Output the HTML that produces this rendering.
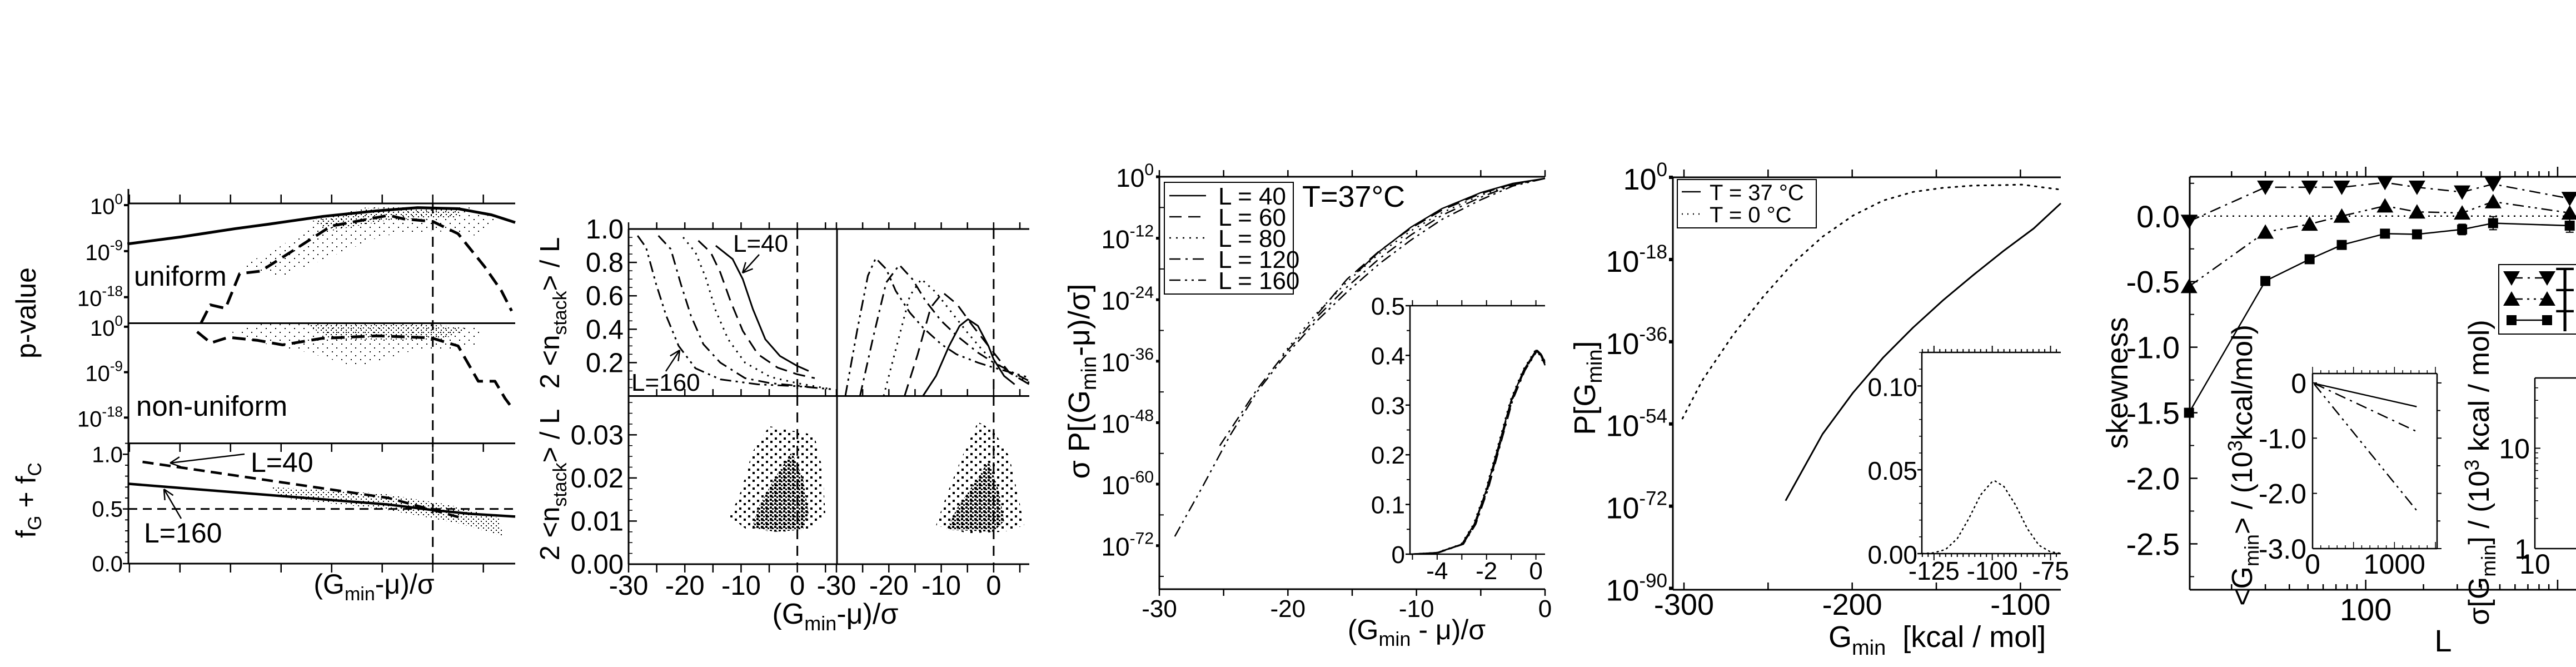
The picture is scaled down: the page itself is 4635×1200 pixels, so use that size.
<!DOCTYPE html>
<html><head><meta charset="utf-8">
<style>
html,body{margin:0;padding:0;background:#fff;}
svg{display:block;}
text{fill:#000;}
</style></head>
<body>
<svg id="fig" xmlns="http://www.w3.org/2000/svg" width="4635" height="1200" viewBox="0 0 4635 1200" font-family="'Liberation Sans', sans-serif">
<defs>
<pattern id="dotsA" width="17" height="14" patternUnits="userSpaceOnUse"><rect x="2" y="2" width="2" height="2"/><rect x="10" y="9" width="2" height="2"/></pattern>
<pattern id="dotsA2" width="9" height="8" patternUnits="userSpaceOnUse"><rect x="1" y="1" width="2" height="2"/><rect x="5" y="5" width="2" height="2"/></pattern>
<pattern id="dotsB" width="16" height="14" patternUnits="userSpaceOnUse"><rect x="2" y="3" width="4" height="4"/><rect x="10" y="9" width="4" height="4"/></pattern>
<pattern id="dotsB2" width="8" height="7" patternUnits="userSpaceOnUse"><rect x="1" y="1" width="4" height="4"/><rect x="5" y="4" width="3" height="3"/></pattern>
</defs>

<text transform="translate(64,563) rotate(-90)" font-size="50" text-anchor="middle">p-value</text>
<text transform="translate(64,900) rotate(-90)" font-size="50" text-anchor="middle">f<tspan font-size="34" dy="10">G</tspan><tspan dy="-10"> + f</tspan><tspan font-size="34" dy="10">C</tspan></text>
<text x="241" y="514" font-size="50">uniform</text>
<text x="245" y="748" font-size="51">non-uniform</text>
<text x="451" y="849" font-size="50">L=40</text>
<text x="259" y="976" font-size="50">L=160</text>
<text x="673" y="1068" font-size="50" text-anchor="middle">(G<tspan font-size="34" dy="12">min</tspan><tspan dy="-12">-μ)/σ</tspan></text>

<text transform="translate(1006,563) rotate(-90)" font-size="49" text-anchor="middle">2 &lt;n<tspan font-size="34" dy="13">stack</tspan><tspan dy="-13">&gt; / L</tspan></text>
<text transform="translate(1006,872) rotate(-90)" font-size="49" text-anchor="middle">2 &lt;n<tspan font-size="34" dy="13">stack</tspan><tspan dy="-13">&gt; / L</tspan></text>
<text x="1319" y="453" font-size="44">L=40</text>
<text x="1136" y="703" font-size="44">L=160</text>
<text x="1503" y="1122" font-size="52" text-anchor="middle">(G<tspan font-size="36" dy="12">min</tspan><tspan dy="-12">-μ)/σ</tspan></text>

<text transform="translate(1960,686) rotate(-90)" font-size="54" font-family="'Liberation Sans Narrow','Liberation Sans',sans-serif" text-anchor="middle">σ P[(G<tspan font-size="38" dy="12">min</tspan><tspan dy="-12">-μ)/σ]</tspan></text>
<text x="2549" y="1150" font-size="50" font-family="'Liberation Sans Narrow','Liberation Sans',sans-serif" text-anchor="middle" xml:space="preserve">(G<tspan font-size="36" dy="12">min</tspan><tspan dy="-12"> - μ)/σ</tspan></text>
<text x="2343" y="372" font-size="54" font-family="'Liberation Sans Narrow','Liberation Sans',sans-serif">T=37°C</text>

<text transform="translate(2870,698) rotate(-90)" font-size="54" font-family="'Liberation Sans Narrow','Liberation Sans',sans-serif" text-anchor="middle">P[G<tspan font-size="38" dy="12">min</tspan><tspan dy="-12">]</tspan></text>
<text x="3290" y="1164" font-size="54" xml:space="preserve">G<tspan font-size="38" dy="14">min</tspan><tspan dy="-14">  [kcal / mol]</tspan></text>

<text transform="translate(3828,689) rotate(-90)" font-size="54" text-anchor="middle">skewness</text>
<text x="4396" y="1172" font-size="56" text-anchor="middle">L</text>
<text transform="translate(4052,837) rotate(-90)" font-size="52" text-anchor="middle">&lt;G<tspan font-size="36" dy="12">min</tspan><tspan dy="-12">&gt; / (10</tspan><tspan font-size="36" dy="-18">3</tspan><tspan dy="18">kcal/mol)</tspan></text>
<text transform="translate(4478,850) rotate(-90)" font-size="52" text-anchor="middle">σ[G<tspan font-size="36" dy="12">min</tspan><tspan dy="-12">] / (10</tspan><tspan font-size="36" dy="-18">3</tspan><tspan dy="18"> kcal / mol)</tspan></text>
</svg>

<script>
const aUniSolidX=[-6.04,-4.97,-3.9,-3.23,-2.17,-1.1,-0.3,0.5,1.16,1.63];
const aUniSolidLogP=[-7.6,-6.2,-4.6,-3.7,-2.2,-1.1,-0.5,-0.7,-1.9,-3.4];
const aUniDashX=[-4.58,-4.4,-4.1,-3.82,-3.4,-2.67,-2.01,-0.87,-0.57,0,0.5,1.03,1.36,1.56];
const aUniDashLogP=[-23,-19.5,-20.2,-13.4,-12.9,-8.3,-4.1,-2.0,-2.7,-3.2,-5.6,-12.1,-16.8,-20.7];
const aNonDashX=[-4.66,-4.39,-4.04,-3.46,-2.97,-2.19,-1.1,-0.03,0.5,0.9,1.23,1.43,1.6];
const aNonDashLogP=[-1.0,-3.2,-2.1,-2.7,-3.6,-2.3,-1.8,-2.2,-3.8,-10.8,-10.8,-14.2,-16.5];
const aF40X=[-5.74,-0.87,0,0.63];
const aF40=[0.93,0.60,0.49,0.41];
const aF160X=[-6.02,-0.87,0,0.76,1.63];
const aF160=[0.73,0.54,0.49,0.455,0.43];
const aLogTicks=[0,-9,-18];
const aFTicks=[0.0,0.5,1.0];
const aUniCloudX=[-3.8,-3,-2.2,-1.3,0,0.8,1.25,0.9,0,-1,-2,-3];
const aUniCloudY=[-12,-8,-2.5,-0.4,-0.2,-0.5,-3,-6,-5,-6,-10,-14];
const aUniCoreX=[-2.4,-1.3,0,0.7,0.4,-0.8,-2];
const aUniCoreY=[-3,-0.6,-0.3,-0.8,-2.5,-2.8,-5];
const aNonCloudX=[-4,-3.5,0,1,0.8,-0.5,-1.5,-2.5,-3.5];
const aNonCloudY=[-1,0.5,0.5,0,-4,-5,-8,-5,-3];
const aNonCoreX=[-2.5,0,0.7,0.2,-2];
const aNonCoreY=[0.4,0.4,-0.3,-2.5,-2.5];
const aFCloudX=[-3.2,-1,0.3,1.3,1.4,0.5,-1,-3];
const aFCloudY=[0.7,0.64,0.54,0.42,0.25,0.37,0.5,0.6];

const bL40X=[-14.5,-11.5,-9.7,-7.9,-5.7,-3.1,0,2];
const bL40Y=[0.90,0.82,0.70,0.52,0.34,0.24,0.18,0.15];
const bL60X=[-17.6,-15.4,-13.7,-11.9,-9.7,-7,-3.5,0,3.1];
const bL60Y=[0.93,0.86,0.74,0.57,0.39,0.25,0.17,0.13,0.107];
const bL80X=[-20.3,-18.1,-16.3,-14.5,-12.3,-9.3,-4.8,0,6.2];
const bL80Y=[0.95,0.86,0.71,0.51,0.34,0.2,0.114,0.077,0.04];
const bL120X=[-24.7,-22.5,-20.7,-18.9,-16.7,-13.7,-9.3,-4.8,0,4];
const bL120Y=[0.96,0.88,0.67,0.48,0.31,0.2,0.107,0.077,0.062,0.047];
const bL160X=[-28.4,-26.9,-25.1,-23.3,-21.1,-18.1,-13.7,-7,0,6.4];
const bL160Y=[0.96,0.89,0.67,0.48,0.3,0.166,0.1,0.07,0.059,0.04];
const bR160X=[-28.3,-26,-24,-22.5,-20.5,-18.7,-16,-13.5,-10,-7.1,-3,0,6.8];
const bR160Y=[0,0.4,0.72,0.825,0.76,0.63,0.5,0.41,0.31,0.25,0.2,0.17,0.11];
const bR120X=[-25.5,-23,-20.5,-18,-15.5,-13,-10,-7,-3,0,6.8];
const bR120Y=[0,0.35,0.68,0.785,0.7,0.57,0.45,0.36,0.26,0.2,0.09];
const bR80X=[-21,-18.5,-16,-13.8,-11,-8,-5,-2,0,3,6.8];
const bR80Y=[0,0.3,0.6,0.70,0.62,0.5,0.38,0.27,0.21,0.14,0.08];
const bR60X=[-17,-14.5,-12,-9.7,-7,-4,-1,1,3,6.8];
const bR60Y=[0,0.25,0.53,0.62,0.55,0.42,0.3,0.22,0.14,0.07];
const bR40X=[-13.5,-11,-8.5,-6.5,-4.9,-3,-1,0,2,4];
const bR40Y=[0,0.12,0.3,0.42,0.46,0.42,0.3,0.22,0.12,0.07];
const bTopTicks=[0.2,0.4,0.6,0.8,1.0];
const bTopTickLabels=['0.2','0.4','0.6','0.8','1.0'];
const bBotTicks=[0,0.01,0.02,0.03];
const bBotTickLabels=['0.00','0.01','0.02','0.03'];
const bXTicks=[-30,-20,-10,0];
const bLCloudX=[-12,-10,-8,-5,-1,3,4.5,5,2,-3,-9];
const bLCloudY=[0.011,0.017,0.026,0.032,0.031,0.03,0.022,0.011,0.008,0.0075,0.008];
const bLCoreX=[-8,-7,-4,-1,1,2,1,-4];
const bLCoreY=[0.0085,0.013,0.02,0.026,0.02,0.012,0.008,0.0075];
const bRCloudX=[-11,-9,-6,-3,0,3,5,5.8,2,-5];
const bRCloudY=[0.009,0.016,0.025,0.033,0.031,0.025,0.014,0.009,0.0075,0.0072];
const bRCoreX=[-9,-7,-3,-1,1,2,0];
const bRCoreY=[0.008,0.013,0.02,0.024,0.017,0.01,0.0075];

const cL40X=[-14.6,-12.9,-10.4,-8,-5,-2.5,0];
const cL40Y=[-18.6,-14.6,-9.8,-6.2,-3.1,-1.3,-0.33];
const cL60X=[-17.7,-15.4,-12.9,-10.4,-8,-5,-2.5,0];
const cL60Y=[-26.8,-20,-14.5,-10,-6.5,-3.3,-1.4,-0.33];
const cL80X=[-20.4,-17.9,-15.4,-12.9,-10.4,-8,-5,-2.5,0];
const cL80Y=[-34.7,-27,-20.5,-15,-10.5,-7,-3.6,-1.5,-0.33];
const cL120X=[-25.3,-22.4,-20.4,-17.9,-15.4,-12.9,-10.4,-8,-5,-2.5,0];
const cL120Y=[-52.5,-41.5,-35,-27.8,-21.5,-16,-11.3,-7.5,-4,-1.6,-0.33];
const cL160X=[-28.8,-26.6,-24.5,-22.4,-20.4,-17.9,-15.4,-12.9,-10.4,-8,-5,-2.5,0];
const cL160Y=[-70.2,-60.3,-50.5,-42,-35.5,-28.5,-22.5,-17,-12.3,-8.3,-4.5,-1.8,-0.33];
const cYTicks=[0,-12,-24,-36,-48,-60,-72];
const cXTicks=[-30,-20,-10,0];
const cInsetX=[-5.1,-4,-3,-2.5,-2,-1.5,-1,-0.5,0,0.2,0.37];
const cInsetY=[0,0.003,0.02,0.06,0.13,0.22,0.31,0.37,0.41,0.40,0.38];
const cInsetShift=[0,0.08,-0.06,0.12,0.04];
const cInsetYTicks=[0,0.1,0.2,0.3,0.4,0.5];
const cInsetYLabels=['0','0.1','0.2','0.3','0.4','0.5'];
const cInsetXTicks=[-4,-2,0];
const cLegendLabels=['L = 40','L = 60','L = 80','L = 120','L = 160'];

const dT37X=[-239.6,-217.6,-199.6,-181.7,-163.8,-145.9,-128,-110,-92.1,-76];
const dT37Y=[-70.8,-56.2,-47.2,-39.5,-32.9,-26.9,-21.4,-16.1,-11.2,-5.7];
const dT0X=[-300.9,-289,-271,-253,-235.5,-217.6,-199.6,-181.7,-163.8,-145.9,-128,-110,-99.3,-76];
const dT0Y=[-52.8,-44.4,-34.6,-26.2,-18.9,-13,-8.4,-5.1,-3.2,-2.3,-1.8,-1.7,-1.6,-2.7];
const dYTicks=[0,-18,-36,-54,-72,-90];
const dXTicks=[-300,-200,-100];
const dInsetX=[-130,-125,-120,-115,-110,-105,-100,-98.8,-95,-90,-85,-80,-75,-70.6];
const dInsetY=[0,0.0005,0.0025,0.009,0.021,0.035,0.043,0.0433,0.04,0.029,0.015,0.005,0.001,0.0002];
const dInsetYTicks=[0,0.05,0.10];
const dInsetYLabels=['0.00','0.05','0.10'];
const dInsetXTicks=[-125,-100,-75];

const eL=[12,30,51,75,126,185,318,461,1156];
const eSkewDown=[-0.04,0.22,0.22,0.22,0.256,0.22,0.183,0.244,0.134];
const eSkewUp=[-0.537,-0.122,-0.061,0.0,0.078,0.032,0.024,0.11,0.024];
const eSkewSq=[-1.5,-0.495,-0.329,-0.22,-0.134,-0.139,-0.102,-0.054,-0.073];
const eSkewSqErr=[0,0,0.01,0.01,0.01,0.01,0.04,0.05,0.05];
const eYTicks=[0,-0.5,-1.0,-1.5,-2.0,-2.5];
const eYLabels=['0.0','-0.5','-1.0','-1.5','-2.0','-2.5'];
const eInsetL=[20,1271];
const eMeanSolid=[-0.01,-0.43];
const eMeanDashDot=[-0.01,-0.88];
const eMeanDashDotDot=[-0.02,-2.31];
const eInsetYTicks=[0,-1,-2,-3];
const eInsetYLabels=['0','-1.0','-2.0','-3.0'];
const eInsetXTicks=[0,1000];
const eSdL=[20,23];
const eSdDashDot=[5.6,9.5];
const eSdDashDotDot=[3.1,5.2];

const NS='http://www.w3.org/2000/svg';
const fig=document.getElementById('fig');
const NARROW="'Liberation Sans Narrow','Liberation Sans',sans-serif";
const DASH='22,12', DOT='3,9', DD='20,9,4,9', DDD='20,8,4,8,4,8';
function lin(d0,d1,r0,r1){return v=>r0+(v-d0)*(r1-r0)/(d1-d0);}
function mk(tag,parent,attrs){const e=document.createElementNS(NS,tag);for(const k in attrs)e.setAttribute(k,attrs[k]);parent.appendChild(e);return e;}
function group(name){
  const g=mk('g',fig,{});
  
  
  return g;
}
function seg(g,x1,y1,x2,y2,w,name,dash){
  const e=mk('line',g,{x1:x1,y1:y1,x2:x2,y2:y2,stroke:'#000','stroke-width':w});
  if(dash)e.setAttribute('stroke-dasharray',dash);
  
  
  return e;
}
function curve(g,xs,ys,sx,sy,w,dash,name,cap){
  const d=xs.map((x,i)=>(i?'L':'M')+sx(x).toFixed(1)+','+sy(ys[i]).toFixed(1)).join('');
  const e=mk('path',g,{d:d,fill:'none',stroke:'#000','stroke-width':w,'stroke-linejoin':'round','stroke-linecap':cap||'butt'});
  if(dash)e.setAttribute('stroke-dasharray',dash);
  
  
  return e;
}
function cloud(g,xs,ys,sx,sy,fill,name){
  const pts=xs.map((x,i)=>sx(x).toFixed(1)+','+sy(ys[i]).toFixed(1)).join(' ');
  const e=mk('polygon',g,{points:pts,fill:fill,stroke:'none'});
  
  
  return e;
}
function label(g,x,y,str,size,anchor,name,fam){
  const e=mk('text',g,{x:x,y:y,'font-size':size,'text-anchor':anchor||'start'});
  if(fam)e.setAttribute('font-family',fam);
  e.textContent=str;
  
  
  return e;
}
function powLabel(g,x,y,exp,size,name,fam){
  const e=mk('text',g,{x:x,y:y,'font-size':size,'text-anchor':'end'});
  if(fam)e.setAttribute('font-family',fam);
  const t1=mk('tspan',e,{}); t1.textContent='10';
  const t2=mk('tspan',e,{'font-size':(size*0.65).toFixed(0),dy:(-size*0.45).toFixed(0)}); t2.textContent=String(exp);
  
  
  return e;
}
function frame(g,x0,x1,y0,y1,sides,w){
  if(sides.includes('t'))seg(g,x0,y0,x1,y0,w,'frame-top');
  if(sides.includes('b'))seg(g,x0,y1,x1,y1,w,'frame-bottom');
  if(sides.includes('l'))seg(g,x0,y0,x0,y1,w,'frame-left');
  if(sides.includes('r'))seg(g,x1,y0,x1,y1,w,'frame-right');
}
function arrow(g,x1,y1,x2,y2,name){
  seg(g,x1,y1,x2,y2,2.5,name);
  const a=Math.atan2(y2-y1,x2-x1),L=20,s=0.45;
  seg(g,x2,y2,x2-L*Math.cos(a-s),y2-L*Math.sin(a-s),2.5,name+'-head');
  seg(g,x2,y2,x2-L*Math.cos(a+s),y2-L*Math.sin(a+s),2.5,name+'-head');
}
function marker(g,type,cx,cy,name){
  let e;
  if(type==='down'){e=mk('polygon',g,{points:`${cx-15},${cy-12} ${cx+15},${cy-12} ${cx},${cy+14}`,fill:'#000'});}
  else if(type==='up'){e=mk('polygon',g,{points:`${cx-15},${cy+12} ${cx+15},${cy+12} ${cx},${cy-14}`,fill:'#000'});}
  else {e=mk('rect',g,{x:cx-9,y:cy-9,width:18,height:18,fill:'#000'});}
  
  
  return e;
}

(function(){
  const g=group('panel-a-pvalue');
  const X0=231,X1=927;
  const aX=lin(-6.02,1.63,X0,X1);
  const a1Y=lin(0.33,-23.1,366,581.5);
  const a2Y=lin(0.7,-23.1,581.5,797.6);
  const a3Y=lin(1.1,0,797.6,1014);
  cloud(g,aUniCloudX,aUniCloudY,aX,a1Y,'url(#dotsA)','uniform-scatter');
  cloud(g,aUniCoreX,aUniCoreY,aX,a1Y,'url(#dotsA2)','uniform-scatter-core');
  cloud(g,aNonCloudX,aNonCloudY,aX,a2Y,'url(#dotsA)','non-uniform-scatter');
  cloud(g,aNonCoreX,aNonCoreY,aX,a2Y,'url(#dotsA2)','non-uniform-scatter-core');
  cloud(g,aFCloudX,aFCloudY,aX,a3Y,'url(#dotsA2)','fraction-scatter');
  seg(g,X0,366,X1,366,3,'a-top-line');
  seg(g,X0,581.5,X1,581.5,3,'a-sep-1');
  seg(g,X0,797.6,X1,797.6,3,'a-sep-2');
  seg(g,X0,1014,X1,1014,3,'a-bottom-axis');
  seg(g,X0,340,X0,1014,3,'a-left-axis');
  for(let v=-6;v<=1;v++){
    const x=aX(v);
    seg(g,x,350,x,366,2.5,'a-top-tick');
    seg(g,x,797.6,x,813,2.5,'a-mid-tick');
    seg(g,x,1014,x,1030,2.5,'a-bottom-tick');
  }
  aLogTicks.forEach(t=>{
    [[a1Y,'a1'],[a2Y,'a2']].forEach(([sy,n])=>{
      const y=sy(t);
      seg(g,X0-8,y,X0,y,4,n+'-y-tick');
      powLabel(g,X0-10,y+16,t,40,n+'-y-tick-label');
    });
  });
  aFTicks.forEach(t=>{
    const y=a3Y(t);
    seg(g,X0-10,y,X0,y,2.5,'a3-y-tick');
    label(g,X0-10,y+14,t.toFixed(1),40,'end','a3-y-tick-label');
  });
  for(let v=0.1;v<1.1;v+=0.1){seg(g,X0-6,a3Y(v),X0,a3Y(v),2,'a3-y-minor-tick');}
  curve(g,aUniSolidX,aUniSolidLogP,aX,a1Y,5,null,'uniform-solid-curve');
  curve(g,aUniDashX,aUniDashLogP,aX,a1Y,5,'24,12','uniform-dashed-curve');
  curve(g,aNonDashX,aNonDashLogP,aX,a2Y,5,'24,12','non-uniform-dashed-curve');
  seg(g,aX(-6.02),a3Y(0.5),X1,a3Y(0.5),3,'half-reference-line','16,10');
  curve(g,aF40X,aF40,aX,a3Y,4.5,'20,11','f-l40-curve');
  curve(g,aF160X,aF160,aX,a3Y,4.5,null,'f-l160-curve');
  seg(g,aX(0),366,aX(0),1014,3,'a-zero-line','18,12');
  arrow(g,440,817,306,833,'a-l40-arrow');
  arrow(g,326,933,295,880,'a-l160-arrow');
})();

(function(){
  const g=group('panel-b-nstack');
  const bLX=lin(-30,7.05,1131,1506), bRX=lin(-30,6.8,1505,1852);
  const bTopY=lin(1,0,412,712.5), bBotY=lin(0.039,0,712.5,1015);
  cloud(g,bLCloudX,bLCloudY,bLX,bBotY,'url(#dotsB)','b-left-scatter');
  cloud(g,bLCoreX,bLCoreY,bLX,bBotY,'url(#dotsB2)','b-left-scatter-core');
  cloud(g,bRCloudX,bRCloudY,bRX,bBotY,'url(#dotsB)','b-right-scatter');
  cloud(g,bRCoreX,bRCoreY,bRX,bBotY,'url(#dotsB2)','b-right-scatter-core');
  seg(g,1131,412,1852,412,3,'b-top-line');
  seg(g,1131,712.5,1852,712.5,3,'b-mid-line');
  seg(g,1131,1015,1852,1015,3,'b-bottom-axis');
  seg(g,1131,412,1131,1015,3,'b-left-axis');
  seg(g,1506,412,1506,1015,3,'b-divider');
  bTopTicks.forEach((t,i)=>{const y=bTopY(t);seg(g,1131,y,1146,y,2.5,'b-top-y-tick');label(g,1122,y+17,bTopTickLabels[i],49,'end','b-top-y-tick-label');});
  bBotTicks.forEach((t,i)=>{const y=bBotY(t);seg(g,1131,y,1146,y,2.5,'b-bot-y-tick');label(g,1122,y+17,bBotTickLabels[i],49,'end','b-bot-y-tick-label');});
  for(let v=0.05;v<1;v+=0.05){seg(g,1131,bTopY(v),1138,bTopY(v),1.5,'b-minor-tick');}
  for(let v=0.0025;v<0.039;v+=0.0025){seg(g,1131,bBotY(v),1138,bBotY(v),1.5,'b-minor-tick');}
  for(let v=-30;v<=5;v+=5){
    [bLX,bRX].forEach(sx=>{const x=sx(v);
      seg(g,x,412,x,400,2.5,'b-top-x-tick');
      seg(g,x,712.5,x,700,2.5,'b-mid-x-tick');
      seg(g,x,1015,x,1030,2.5,'b-bottom-x-tick');});
  }
  bXTicks.forEach(t=>{
    label(g,bLX(t),1070,String(t),49,'middle','b-left-x-tick-label');
    label(g,bRX(t),1070,String(t),49,'middle','b-right-x-tick-label');
  });
  curve(g,bL40X,bL40Y,bLX,bTopY,3,null,'b-left-l40');
  curve(g,bL60X,bL60Y,bLX,bTopY,3,DASH,'b-left-l60');
  curve(g,bL80X,bL80Y,bLX,bTopY,3,DOT,'b-left-l80');
  curve(g,bL120X,bL120Y,bLX,bTopY,3,DD,'b-left-l120');
  curve(g,bL160X,bL160Y,bLX,bTopY,3,DDD,'b-left-l160');
  curve(g,bR40X,bR40Y,bRX,bTopY,3,null,'b-right-l40');
  curve(g,bR60X,bR60Y,bRX,bTopY,3,DASH,'b-right-l60');
  curve(g,bR80X,bR80Y,bRX,bTopY,3,DOT,'b-right-l80');
  curve(g,bR120X,bR120Y,bRX,bTopY,3,DD,'b-right-l120');
  curve(g,bR160X,bR160Y,bRX,bTopY,3,DDD,'b-right-l160');
  [bLX,bRX].forEach(sx=>seg(g,sx(0),412,sx(0),1015,3,'b-zero-line','18,12'));
  arrow(g,1366,458,1336,491,'b-l40-arrow');
  arrow(g,1198,668,1223,630,'b-l160-arrow');
})();

(function(){
  const g=group('panel-c-distribution');
  const cX=lin(-30,0,2086,2780), cY=lin(0,-80.5,318,1060);
  frame(g,2086,2780,318,1060,'tbl',3);
  cYTicks.forEach(t=>{const y=cY(t);seg(g,2080,y,2086,y,5,'c-y-tick');powLabel(g,2076,y+18,t,46,'c-y-tick-label',NARROW);});
  for(let v=-6;v>-80;v-=12){seg(g,2086,cY(v),2094,cY(v),2,'c-y-minor-tick');}
  for(let v=-30;v<=0;v+=5){const x=cX(v);seg(g,x,318,x,306,2.5,'c-top-x-tick');seg(g,x,1060,x,1072,2.5,'c-bottom-x-tick');}
  cXTicks.forEach(t=>label(g,cX(t),1110,String(t),44,'middle','c-x-tick-label',NARROW));
  curve(g,cL160X,cL160Y,cX,cY,2.5,DDD,'c-l160-curve');
  curve(g,cL120X,cL120Y,cX,cY,2.5,DD,'c-l120-curve');
  curve(g,cL80X,cL80Y,cX,cY,2.5,DOT,'c-l80-curve');
  curve(g,cL60X,cL60Y,cX,cY,2.5,DASH,'c-l60-curve');
  curve(g,cL40X,cL40Y,cX,cY,2.5,null,'c-l40-curve');
  const lg=group('c-legend');
  const box=mk('rect',lg,{x:2095,y:328,width:232,height:201,fill:'#fff',stroke:'#000','stroke-width':2});
  
  
  const dashes=[null,DASH,DOT,DD,DDD];
  cLegendLabels.forEach((s,i)=>{const y=352+i*38;
    seg(lg,2104,y,2170,y,2.5,'c-legend-swatch',dashes[i]);
    label(lg,2192,y+16,s,44,'start','c-legend-label',NARROW);});
  const ig=group('c-inset');
  const iX=lin(-5.1,0.37,2537,2780), iY=lin(0.5,0,550,997);
  const bg=mk('rect',ig,{x:2537,y:550,width:243,height:447,fill:'#fff'});
  
  
  frame(ig,2537,2780,550,997,'tbl',2.5);
  cInsetYTicks.forEach((t,i)=>{const y=iY(t);seg(ig,2529,y,2537,y,2.5,'c-inset-y-tick');label(ig,2528,y+16,cInsetYLabels[i],44,'end','c-inset-y-tick-label',NARROW);});
  for(let v=0.05;v<0.5;v+=0.1){seg(ig,2531,iY(v),2537,iY(v),2,'c-inset-y-minor');}
  for(let v=-5;v<=0;v+=1){const x=iX(v);seg(ig,x,550,x,540,2,'c-inset-top-tick');seg(ig,x,997,x,1007,2,'c-inset-bottom-tick');}
  cInsetXTicks.forEach(t=>label(ig,iX(t),1042,String(t),44,'middle','c-inset-x-tick-label',NARROW));
  cInsetShift.forEach((s,i)=>{
    const xs=cInsetX.map(v=>v+s*0.5);
    curve(ig,xs,cInsetY,iX,iY,2.5,dashes[i],'c-inset-curve-'+i);
  });
})();

(function(){
  const g=group('panel-d-pgmin');
  const dX=lin(-306.6,-76,3010,3708), dY=lin(0,-90.3,319,1061);
  frame(g,3010,3708,319,1061,'tbl',3);
  dYTicks.forEach(t=>{const y=dY(t);seg(g,3003,y,3010,y,6,'d-y-tick');powLabel(g,3000,y+22,t,54,'d-y-tick-label',NARROW);});
  for(let v=-300;v<=-100;v+=50){const x=dX(v);seg(g,x,319,x,305,2.5,'d-top-x-tick');seg(g,x,1061,x,1048,2.5,'d-bottom-x-tick');}
  dXTicks.forEach(t=>label(g,dX(t),1106,String(t),54,'middle','d-x-tick-label',NARROW));
  curve(g,dT0X,dT0Y,dX,dY,3,'3,10','t0-curve','round');
  curve(g,dT37X,dT37Y,dX,dY,3,null,'t37-curve');
  const lg=group('d-legend');
  const box=mk('rect',lg,{x:3018,y:323,width:250,height:87,fill:'#fff',stroke:'#000','stroke-width':2});
  
  
  seg(lg,3026,345,3060,345,2.5,'d-legend-swatch-t37');
  label(lg,3076,360,'T = 37 °C',40,'start','d-legend-label-t37',NARROW);
  seg(lg,3026,385,3060,385,2.5,'d-legend-swatch-t0','2,8');
  label(lg,3076,400,'T = 0 °C',40,'start','d-legend-label-t0',NARROW);
  const ig=group('d-inset');
  const iX=lin(-130.2,-70.6,3458,3708), iY=lin(0.12,0,634,996);
  const bg=mk('rect',ig,{x:3458,y:634,width:250,height:362,fill:'#fff'});
  
  
  frame(ig,3458,3708,634,996,'tbl',2.5);
  dInsetYTicks.forEach((t,i)=>{const y=iY(t);seg(ig,3450,y,3458,y,2.5,'d-inset-y-tick');label(ig,3450,y+18,dInsetYLabels[i],46,'end','d-inset-y-tick-label',NARROW);});
  for(let v=0.01;v<0.12;v+=0.01){seg(ig,3453,iY(v),3458,iY(v),1.5,'d-inset-y-minor');}
  for(let v=-130;v<=-71;v+=2.5){const x=iX(v);const big=(Math.round(v)%25===0);seg(ig,x,634,x,big?622:628,2,'d-inset-top-tick');seg(ig,x,996,x,big?1008:1002,2,'d-inset-bottom-tick');}
  dInsetXTicks.forEach(t=>label(ig,iX(t),1043,String(t),46,'middle','d-inset-x-tick-label',NARROW));
  curve(ig,dInsetX,dInsetY,iX,iY,2.5,'2,7','d-inset-t0-curve','round');
})();

(function(){
  const g=group('panel-e-skewness');
  const eX=v=>3940+(Math.log10(v)-1.083)*345.3;
  const eY=lin(0.30,-2.85,318,1061);
  seg(g,3940,318,4635,318,3,'e-top-line');
  seg(g,3940,1061,4635,1061,3,'e-bottom-axis');
  seg(g,3940,318,3940,1061,3,'e-left-axis');
  eYTicks.forEach((t,i)=>{const y=eY(t);seg(g,3940,y,3954,y,2.5,'e-y-tick');label(g,3922,y+20,eYLabels[i],56,'end','e-y-tick-label');});
  for(let v=0.25;v>-2.85;v-=0.5){seg(g,3940,eY(v),3948,eY(v),2,'e-y-minor-tick');}
  [20,30,40,50,60,70,80,90,100,200,300,400,500,600,700,800,900,1000].forEach(v=>{
    const x=eX(v);const big=(v===100||v===1000);
    seg(g,x,318,x,big?300:308,2.5,'e-top-x-tick');
    seg(g,x,1061,x,big?1043:1051,2.5,'e-bottom-x-tick');
  });
  label(g,eX(100),1116,'100',56,'middle','e-x-tick-label');
  seg(g,3940,eY(0),4635,eY(0),2.5,'zero-skew-line','3,8');
  curve(g,eL,eSkewDown,eX,eY,2.5,DD,'skew-down-line');
  curve(g,eL,eSkewUp,eX,eY,2.5,DDD,'skew-up-line');
  curve(g,eL,eSkewSq,eX,eY,2.5,null,'skew-square-line');
  eL.forEach((L,i)=>{
    const x=eX(L);
    if(eSkewSqErr[i]>0){
      const y0=eY(eSkewSq[i]+eSkewSqErr[i]), y1=eY(eSkewSq[i]-eSkewSqErr[i]);
      seg(g,x,y0,x,y1,2,'skew-error-bar');
      seg(g,x-7,y0,x+7,y0,2,'skew-error-cap');
      seg(g,x-7,y1,x+7,y1,2,'skew-error-cap');
    }
    marker(g,'down',x,eY(eSkewDown[i]),'skew-down-marker');
    marker(g,'up',x,eY(eSkewUp[i]),'skew-up-marker');
    marker(g,'sq',x,eY(eSkewSq[i]),'skew-square-marker');
  });
  const lg=group('e-legend');
  const box=mk('rect',lg,{x:4496,y:476,width:150,height:125,fill:'#fff',stroke:'#000','stroke-width':2});
  
  
  [['down',DD,500],['up',DDD,538],['sq',null,576]].forEach(([t,d,y],i)=>{
    seg(lg,4519,y,4583,y,2.5,'e-legend-swatch',d);
    marker(lg,t,4519,y,'e-legend-marker');
    marker(lg,t,4583,y,'e-legend-marker');
    label(lg,4598,y+20,'T',56,'start','e-legend-label');
  });
  const i1=group('e-mean-inset');
  const mX=lin(0,1520,4161,4385), mY=lin(0.17,-3.0,672,987);
  const bg1=mk('rect',i1,{x:4161,y:672,width:224,height:315,fill:'#fff'});
  
  
  frame(i1,4161,4385,672,987,'tblr',2.5);
  eInsetYTicks.forEach((t,i)=>{const y=mY(t);seg(i1,4161,y,4169,y,2,'e-mean-y-tick');seg(i1,4385,y,4393,y,2,'e-mean-y-tick-right');label(i1,4150,y+18,eInsetYLabels[i],50,'end','e-mean-y-tick-label');});
  for(let v=-0.5;v>-3;v-=1){seg(i1,4385,mY(v),4391,mY(v),2,'e-mean-y-minor');}
  for(let v=0;v<=1500;v+=100){const x=mX(v);const big=(v%500===0);seg(i1,x,672,x,big?660:666,1.5,'e-mean-top-tick');seg(i1,x,987,x,big?975:981,1.5,'e-mean-bottom-tick');}
  eInsetXTicks.forEach(t=>label(i1,mX(t),1032,String(t),50,'middle','e-mean-x-tick-label'));
  curve(i1,eInsetL,eMeanSolid,mX,mY,2.5,null,'mean-solid-line');
  curve(i1,eInsetL,eMeanDashDot,mX,mY,2.5,DD,'mean-dashdot-line');
  curve(i1,eInsetL,eMeanDashDotDot,mX,mY,2.5,DDD,'mean-dashdotdot-line');
  const i2=group('e-sd-inset');
  const sX=v=>4561+(Math.log10(v)-1)*300;
  const sY=v=>987-Math.log10(v)*(307/1.70);
  const bg2=mk('rect',i2,{x:4561,y:680,width:80,height:307,fill:'#fff'});
  
  
  seg(i2,4561,680,4635,680,2.5,'e-sd-top');
  seg(i2,4561,680,4561,987,2.5,'e-sd-left');
  seg(i2,4561,987,4635,987,2.5,'e-sd-bottom');
  [1,10].forEach(t=>{const y=sY(t);seg(i2,4561,y,4571,y,2,'e-sd-y-tick');label(i2,4552,y+18,String(t),50,'end','e-sd-y-tick-label');});
  [2,3,4,5,6,7,8,9,20,30,40].forEach(t=>seg(i2,4561,sY(t),4567,sY(t),1.5,'e-sd-y-minor'));
  label(i2,4561,1032,'10',50,'middle','e-sd-x-tick-label');
  curve(i2,eSdL,eSdDashDot,sX,sY,2.5,DD,'sd-dashdot-line');
  curve(i2,eSdL,eSdDashDotDot,sX,sY,2.5,DDD,'sd-dashdotdot-line');
})();
</script>
</body></html>
